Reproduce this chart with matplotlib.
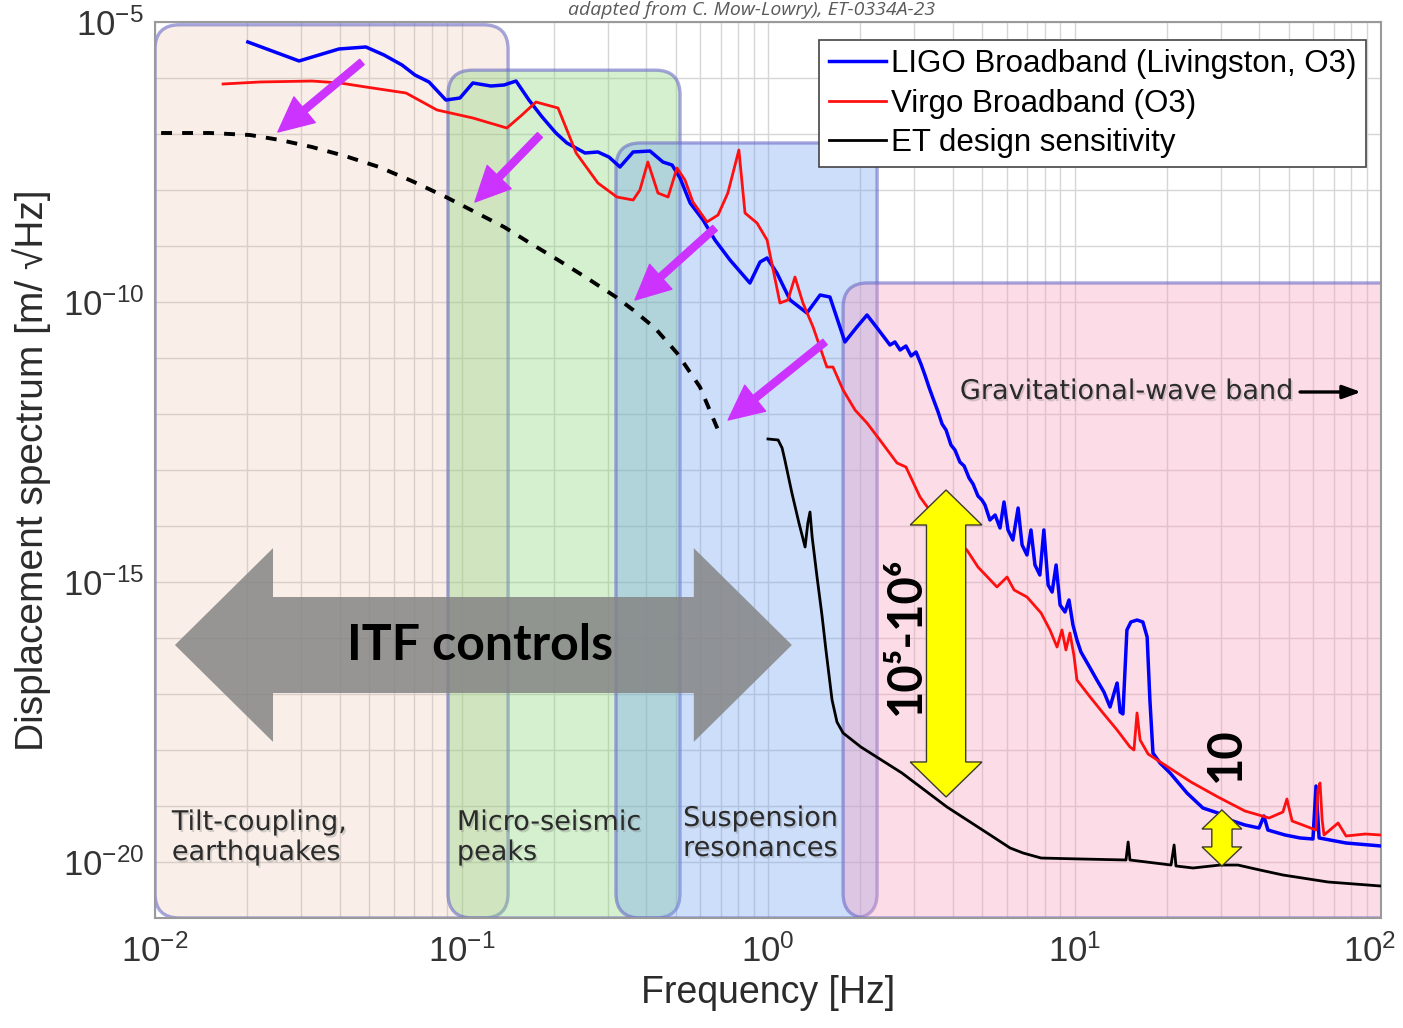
import numpy as np
import matplotlib.pyplot as plt
import matplotlib.patheffects as pe
from matplotlib.colors import to_rgba
from matplotlib.patches import FancyBboxPatch, Polygon, FancyArrowPatch
from matplotlib.ticker import LogLocator, NullLocator
from matplotlib.transforms import ScaledTranslation

plt.rcParams['font.family'] = ['Liberation Sans', 'DejaVu Sans']
plt.rcParams['mathtext.fontset'] = 'custom'
plt.rcParams['mathtext.rm'] = 'Liberation Sans'
plt.rcParams['mathtext.it'] = 'Liberation Sans:italic'
plt.rcParams['mathtext.bf'] = 'Liberation Sans:bold'

# spectra, stored as log10(f / Hz) and log10(ASD / m/sqrt(Hz))
ligo_logf = [-1.697, -1.530, -1.400, -1.312, -1.253, -1.194, -1.152, -1.106, -1.051, -1.005,
             -0.963, -0.904, -0.861, -0.822, -0.780, -0.737, -0.692, -0.656, -0.597, -0.555,
             -0.519, -0.483, -0.440, -0.385, -0.343, -0.313, -0.287, -0.254, -0.212, -0.173,
             -0.124, -0.059, -0.026, -0.003, 0.029, 0.072, 0.127, 0.170, 0.202, 0.251,
             0.290, 0.323, 0.356, 0.398, 0.414, 0.431, 0.450, 0.467, 0.483, 0.499,
             0.512, 0.525, 0.538, 0.555, 0.568, 0.581, 0.597, 0.610, 0.626, 0.640,
             0.656, 0.669, 0.685, 0.698, 0.708, 0.724, 0.741, 0.757, 0.770, 0.783,
             0.799, 0.816, 0.829, 0.845, 0.858, 0.871, 0.887, 0.900, 0.914, 0.927,
             0.940, 0.953, 0.969, 0.982, 0.995, 1.008, 1.021, 1.051, 1.073, 1.096,
             1.116, 1.132, 1.139, 1.149, 1.158, 1.171, 1.184, 1.204, 1.223, 1.237,
             1.246, 1.256, 1.279, 1.312, 1.367, 1.419, 1.468, 1.507, 1.556, 1.602,
             1.618, 1.631, 1.687, 1.736, 1.778, 1.788, 1.798, 1.886, 2.000]
ligo_logasd = [-5.357, -5.696, -5.482, -5.446, -5.589, -5.768, -5.946, -6.071, -6.393, -6.357,
               -6.089, -6.143, -6.125, -6.054, -6.393, -6.696, -6.982, -7.161, -7.339, -7.321,
               -7.411, -7.589, -7.321, -7.304, -7.500, -7.554, -7.786, -8.232, -8.536, -8.893,
               -9.250, -9.661, -9.286, -9.214, -9.482, -9.964, -10.196, -9.875, -9.911, -10.714,
               -10.446, -10.232, -10.464, -10.768, -10.714, -10.857, -10.786, -10.964, -10.893, -11.107,
               -11.304, -11.518, -11.714, -11.964, -12.179, -12.286, -12.554, -12.643, -12.857, -12.929,
               -13.143, -13.250, -13.464, -13.536, -13.625, -13.893, -13.804, -14.036, -13.571, -14.071,
               -14.250, -13.679, -14.339, -14.518, -14.071, -14.696, -14.875, -14.071, -15.054, -15.179,
               -14.696, -15.411, -15.536, -15.321, -15.768, -16.036, -16.250, -16.536, -16.750, -16.964,
               -17.232, -16.929, -16.804, -17.321, -17.357, -15.857, -15.714, -15.679, -15.714, -15.982,
               -17.107, -18.054, -18.232, -18.411, -18.768, -19.036, -19.125, -19.250, -19.339, -19.393,
               -19.179, -19.429, -19.518, -19.571, -19.589, -18.643, -19.571, -19.661, -19.714]

virgo_logf = [-1.778, -1.657, -1.488, -1.396, -1.312, -1.181, -1.080, -0.963, -0.852, -0.803,
              -0.757, -0.685, -0.656, -0.626, -0.555, -0.493, -0.440, -0.418, -0.392, -0.359,
              -0.326, -0.297, -0.271, -0.245, -0.199, -0.163, -0.131, -0.095, -0.075, -0.036,
              -0.003, 0.039, 0.065, 0.088, 0.114, 0.147, 0.192, 0.212, 0.245, 0.284,
              0.323, 0.365, 0.421, 0.450, 0.496, 0.551, 0.597, 0.649, 0.685, 0.747,
              0.780, 0.803, 0.845, 0.891, 0.920, 0.943, 0.959, 0.972, 0.985, 0.998,
              1.008, 1.051, 1.093, 1.139, 1.181, 1.194, 1.204, 1.214, 1.240, 1.305,
              1.380, 1.468, 1.556, 1.635, 1.680, 1.693, 1.710, 1.788, 1.794, 1.801,
              1.808, 1.814, 1.860, 1.886, 1.948, 2.000]
virgo_logasd = [-6.107, -6.071, -6.054, -6.089, -6.161, -6.268, -6.571, -6.714, -6.893, -6.661,
                -6.429, -6.536, -6.929, -7.339, -7.875, -8.125, -8.179, -8.000, -7.500, -8.054,
                -8.125, -7.607, -7.821, -8.214, -8.571, -8.446, -8.054, -7.286, -8.411, -8.589,
                -8.893, -10.018, -9.964, -9.554, -10.018, -10.446, -11.161, -11.161, -11.571, -11.929,
                -12.161, -12.464, -12.875, -12.946, -13.482, -13.893, -14.196, -14.429, -14.732, -15.089,
                -14.911, -15.143, -15.268, -15.554, -15.857, -16.161, -15.857, -16.214, -15.911, -16.304,
                -16.750, -17.054, -17.339, -17.643, -17.946, -18.000, -17.339, -17.821, -18.071, -18.304,
                -18.571, -18.839, -19.089, -19.214, -19.107, -18.875, -19.268, -19.429, -18.714, -18.589,
                -19.250, -19.518, -19.304, -19.536, -19.500, -19.518]

# ET: low-frequency extrapolation (dashed) and design curve
et_lf_logf = [-1.980, -1.821, -1.690, -1.592, -1.488, -1.380, -1.269, -1.162, -1.051, -0.956,
              -0.861, -0.777, -0.685, -0.591, -0.496, -0.440, -0.369, -0.297, -0.222, -0.163]
et_lf_logasd = [-6.982, -6.982, -7.018, -7.107, -7.232, -7.393, -7.589, -7.839, -8.125, -8.393,
                -8.661, -8.946, -9.250, -9.571, -9.911, -10.143, -10.464, -10.911, -11.518, -12.286]
et_logf = [0.000, 0.033, 0.046, 0.055, 0.078, 0.101, 0.121, 0.130, 0.137, 0.144,
           0.160, 0.176, 0.189, 0.209, 0.225, 0.245, 0.303, 0.437, 0.584, 0.715,
           0.790, 0.832, 0.891, 1.018, 1.168, 1.175, 1.181, 1.315, 1.325, 1.331,
           1.387, 1.475, 1.533, 1.605, 1.680, 1.827, 2.000]
et_logasd = [-12.446, -12.464, -12.607, -12.821, -13.411, -13.946, -14.375, -13.946, -13.750, -14.196,
             -14.911, -15.589, -16.214, -17.107, -17.500, -17.696, -17.946, -18.411, -19.018, -19.482,
             -19.750, -19.839, -19.929, -19.946, -19.964, -19.643, -19.964, -20.054, -19.696, -20.071,
             -20.107, -20.054, -20.054, -20.143, -20.232, -20.357, -20.429]

# noise regions (log10 f limits, log10 top of the box)
band_lo = [-2.0, -1.044, -0.496, 0.245]
band_hi = [-0.848, -0.287, 0.356, 2.1]
band_top = [-5.05, -5.86, -7.16, -9.66]
band_colors = ['#e8b898', '#84d473', '#70a1f1', '#f99bbd']
band_alpha = [0.22, 0.35, 0.35, 0.35]
band_labels = ['Tilt-coupling,\nearthquakes', 'Micro-seismic\npeaks', 'Suspension\nresonances']
band_label_x = [-1.945, -1.015, -0.277]
band_label_y = [-19.571, -19.571, -19.50]

# "shift down" arrows: tail and head, log10 units
push_tail = [(-1.325, -5.714), (-0.744, -7.018), (-0.173, -8.679), (0.186, -10.714)]
push_head = [(-1.599, -6.964), (-0.956, -8.214), (-0.434, -9.964), (-0.130, -12.107)]

W, H = 14.03, 10.28
fig = plt.figure(figsize=(W, H), dpi=100)
ax = fig.add_axes([155 / 1403, 110 / 1028, 1226 / 1403, 896 / 1028])
ax.set_xscale('log')
ax.set_yscale('log')
ax.set_xlim(1e-2, 1e2)
ax.set_ylim(1e-21, 1e-5)

# ticks and grid
ax.set_xticks(10.0 ** np.arange(-2, 3))
ax.set_xticklabels([r'$\mathdefault{10^{%d}}$' % e for e in range(-2, 3)])
ax.xaxis.set_minor_locator(LogLocator(base=10, subs=np.arange(2, 10)))
ydec = np.arange(-21, -4)
ax.set_yticks(10.0 ** ydec)
ax.set_yticklabels([r'$\mathdefault{10^{%d}}$' % e if e % 5 == 0 else '' for e in ydec])
ax.yaxis.set_minor_locator(NullLocator())
ax.grid(True, which='both', axis='x', color='#d6d6d6', lw=1.0, zorder=0)
ax.grid(True, which='major', axis='y', color='#d6d6d6', lw=1.0, zorder=0)
ax.set_axisbelow(True)
ax.tick_params(which='both', length=0, labelsize=25, labelcolor='#333333')
ax.tick_params(axis='x', pad=12)
ax.tick_params(axis='y', pad=8)
for s in ax.spines.values():
    s.set_color('#9a9a9a')
    s.set_linewidth(1.5)
# keep the last frequency label inside the figure
last = ax.get_xticklabels()[-1]
last.set_transform(last.get_transform() + ScaledTranslation(-8 / 72, 0, fig.dpi_scale_trans))

# shaded noise regions with rounded corners
pos = ax.get_position()
aspect = (pos.width * W) / (pos.height * H)
for lo, hi, top, c, a in zip(band_lo, band_hi, band_top, band_colors, band_alpha):
    x0 = (lo + 2) / 4
    x1 = (hi + 2) / 4
    y1 = (top + 21) / 16
    box = FancyBboxPatch((x0, 0), x1 - x0, y1, boxstyle='round,pad=0,rounding_size=0.02',
                         mutation_aspect=aspect, transform=ax.transAxes,
                         fc=to_rgba(c, a), ec=(0.42, 0.42, 0.78, 0.6), lw=2.4, zorder=1)
    ax.add_patch(box)

shadow = [pe.withSimplePatchShadow(offset=(1.2, -1.5), shadow_rgbFace='#777777', alpha=0.3)]
for lab, lx, ly in zip(band_labels, band_label_x, band_label_y):
    ax.text(10 ** lx, 10 ** ly, lab, family='DejaVu Sans', fontsize=19.5, color='#2b2b2b',
            ha='left', va='center', linespacing=1.2, zorder=5, path_effects=shadow)

ax.text(10 ** 0.626, 10 ** -11.607, 'Gravitational-wave band', family='DejaVu Sans',
        fontsize=19.5, color='#2b2b2b', ha='left', va='center', zorder=5, path_effects=shadow)
ax.annotate('', xy=(10 ** 1.935, 10 ** -11.607), xytext=(10 ** 1.736, 10 ** -11.607),
            arrowprops=dict(arrowstyle='-|>,head_length=1.1,head_width=0.4', color='black', lw=2.4,
                            shrinkA=0, shrinkB=0), zorder=5)

# spectra
ax.plot(10 ** np.array(ligo_logf), 10 ** np.array(ligo_logasd), color='#0000ff', lw=2.5,
        label='LIGO Broadband (Livingston, O3)', zorder=3)
ax.plot(10 ** np.array(virgo_logf), 10 ** np.array(virgo_logasd), color='#ff1010', lw=2.0,
        label='Virgo Broadband (O3)', zorder=3)
ax.plot(10 ** np.array(et_lf_logf), 10 ** np.array(et_lf_logasd), color='black', lw=2.8,
        ls=(0, (2.8, 2.6)), zorder=3)
ax.plot(10 ** np.array(et_logf), 10 ** np.array(et_logasd), color='black', lw=2.0,
        label='ET design sensitivity', zorder=3)

for (tx, ty), (hx, hy) in zip(push_tail, push_head):
    arr = FancyArrowPatch((10 ** tx, 10 ** ty), (10 ** hx, 10 ** hy),
                          arrowstyle='simple,head_length=1.25,head_width=1.2,tail_width=0.25',
                          mutation_scale=20, color='#cc33ff', shrinkA=0, shrinkB=0, zorder=4)
    ax.add_patch(arr)


def double_arrow(center, along0, along1, half_head, half_shaft, head_len, vertical, **kw):
    a = [along0, along0 - head_len, along0 - head_len, along1 + head_len, along1 + head_len,
         along1, along1 + head_len, along1 + head_len, along0 - head_len, along0 - head_len]
    c = [center, center + half_head, center + half_shaft, center + half_shaft, center + half_head,
         center, center - half_head, center - half_shaft, center - half_shaft, center - half_head]
    a = 10 ** np.array(a)
    c = 10 ** np.array(c)
    pts = np.column_stack([c, a]) if vertical else np.column_stack([a, c])
    ax.add_patch(Polygon(pts, closed=True, **kw))


# ITF control band arrow
double_arrow(-16.125, 0.078, -1.935, 1.73, 0.857, 0.32, False,
             fc='#858585', ec='none', alpha=0.85, zorder=4)
ax.text(10 ** -0.940, 10 ** -16.125, 'ITF controls', family=['Lato', 'DejaVu Sans'],
        fontweight='bold', fontsize=36, ha='center', va='center', color='black', zorder=5)

# improvement factors
double_arrow(0.581, -13.357, -18.839, 0.117, 0.064, 0.625, True,
             fc='#ffff00', ec='#3c3c28', lw=1.0, zorder=4)
ax.text(10 ** 0.450, 10 ** -15.964, '10⁵-10⁶', family=['Lato', 'DejaVu Sans'],
        fontweight='bold', fontsize=34, rotation=90, ha='center', va='center', zorder=5)
double_arrow(1.481, -19.071, -20.071, 0.065, 0.033, 0.34, True,
             fc='#ffff00', ec='#3c3c28', lw=1.0, zorder=4)
ax.text(10 ** 1.494, 10 ** -18.089, '10', family=['Lato', 'DejaVu Sans'],
        fontweight='bold', fontsize=34, rotation=90, ha='center', va='center', zorder=5)

leg = ax.legend(loc='upper right', bbox_to_anchor=(0.9878, 0.98), fontsize=22.5,
                handlelength=1.85, handletextpad=0.15, labelspacing=0.3, borderpad=0.3,
                borderaxespad=0, fancybox=False, framealpha=1)
leg.get_frame().set_edgecolor('#444444')
leg.get_frame().set_linewidth(1.2)
leg.set_zorder(6)

ax.set_xlabel('Frequency [Hz]', fontsize=27, color='#2b2b2b', labelpad=4)
ax.set_ylabel('Displacement spectrum [m/ √Hz]', fontsize=28, color='#2b2b2b', labelpad=8)

fig.text(0.536, 1 - 15 / 1028, 'adapted from C. Mow-Lowry), ET-0334A-23', family='Open Sans',
         style='italic', fontsize=14, color='#5a5a5a', ha='center', va='baseline')

fig.savefig('out.png', dpi=100)
